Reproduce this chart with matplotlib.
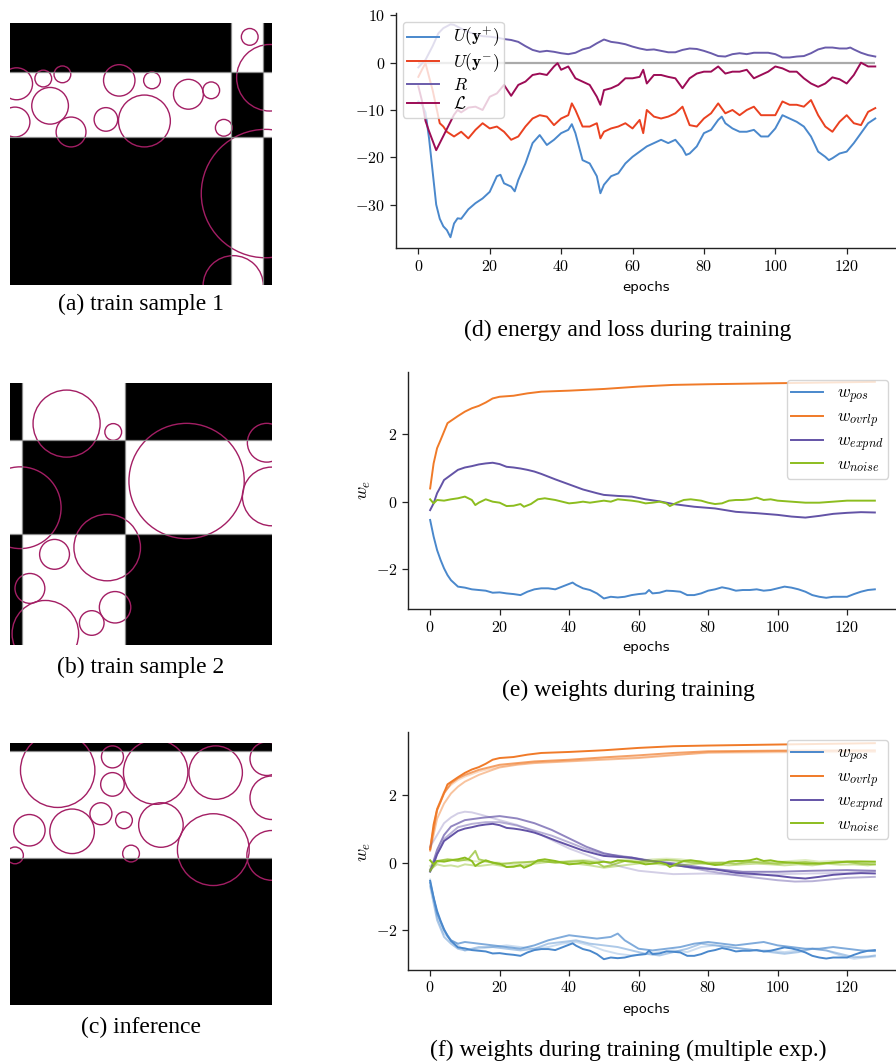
import matplotlib
matplotlib.use('Agg')
import matplotlib.pyplot as plt
from matplotlib.patches import Circle
from matplotlib.ticker import FuncFormatter, MultipleLocator

plt.rcParams['mathtext.fontset'] = 'cm'

W, H = 896, 1064

# ---- sample images: block edges (0..100), cell colours (0 black, 1 white), circles (x, y, r)
a_xedges = [0, 84.4, 96.7, 100]
a_yedges = [0, 18.7, 43.6, 100]
a_cells = [[0, 1, 0], [1, 0, 1], [0, 1, 0]]
a_circles = [(91.5, 5.3, 3.2), (99.2, 20.9, 12.7), (2.5, 23.2, 6.1), (12.7, 21.2, 3.2),
             (20.0, 19.6, 3.2), (15.3, 31.6, 7.0), (1.9, 37.8, 5.7), (23.3, 41.6, 5.7),
             (41.7, 21.9, 6.0), (54.2, 21.9, 3.2), (68.1, 27.2, 5.7), (76.8, 25.7, 3.2),
             (36.6, 36.8, 4.5), (51.3, 37.4, 9.9), (81.6, 40.0, 3.2), (97.5, 65.1, 24.5),
             (85.2, 100.3, 11.5)]

b_xedges = [0, 4.7, 43.8, 100]
b_yedges = [0, 21.9, 57.8, 100]
b_cells = [[0, 1, 0], [1, 0, 1], [0, 1, 0]]
b_circles = [(21.6, 15.5, 12.8), (39.4, 18.7, 3.2), (67.4, 37.4, 22.0), (98.0, 22.8, 7.4),
             (99.9, 43.3, 11.2), (3.9, 47.6, 15.6), (37.1, 62.8, 12.7), (17.0, 65.4, 5.7),
             (7.6, 78.4, 5.7), (13.5, 95.7, 12.7), (40.1, 85.6, 6.0), (31.2, 91.6, 4.7)]

c_xedges = [0, 100]
c_yedges = [0, 3.2, 43.8, 100]
c_cells = [[0], [1], [0]]
c_circles = [(18.2, 10.4, 14.2), (39.1, 5.3, 4.2), (39.1, 15.8, 4.5), (55.6, 11.1, 12.3),
             (78.5, 11.3, 10.2), (98.0, 6.0, 6.4), (99.9, 20.9, 8.3), (7.4, 33.3, 6.0),
             (23.7, 33.7, 8.5), (34.7, 27.0, 4.2), (43.5, 29.5, 3.2), (57.6, 31.3, 8.5),
             (77.6, 40.7, 13.7), (99.9, 42.9, 9.5), (1.9, 42.9, 3.2), (46.2, 42.2, 3.2)]

# ---- (d) energy and loss, (epoch, value)
u_pos = [(0, -8.2), (1, -8.8), (2, -10.5), (3, -16), (4, -23), (5, -30), (6, -33), (7, -34.6),
         (8, -35.4), (9, -36.9), (10, -34), (11, -32.9), (12, -33), (14, -31), (16, -29.7),
         (18, -28.7), (20, -27.3), (22, -24), (23, -23.7), (24, -25.5), (26, -26.2), (27, -27.2),
         (28, -24.8), (30, -21.3), (32, -17), (34, -15.3), (36, -17.4), (38, -16.3), (40, -14.9),
         (42, -14.2), (43, -13), (44, -14.9), (46, -20.6), (48, -21.3), (50, -24), (51, -27.6),
         (52, -25.8), (54, -24), (56, -23.4), (58, -21.3), (60, -19.9), (62, -18.8), (64, -17.7),
         (66, -17), (68, -16.3), (70, -17), (72, -16.3), (74, -18.1), (75, -19.5), (76, -19.2),
         (78, -17.7), (80, -14.9), (82, -14.2), (84, -12.1), (85, -11.4), (86, -12.8), (88, -13.9),
         (90, -14.6), (92, -14.6), (94, -14.2), (96, -15.6), (98, -15.6), (100, -13.9), (102, -11.1),
         (104, -11.8), (106, -12.5), (108, -13.5), (110, -15.6), (112, -18.8), (114, -19.9),
         (115, -20.6), (116, -20.2), (118, -19.2), (120, -18.8), (122, -17), (124, -14.9),
         (126, -12.8), (128, -11.8)]
u_neg = [(0, -3), (1, -1.5), (2, -0.1), (3, -3), (4, -5.8), (5, -9.3), (6, -12.8), (7, -13.5),
         (8, -14.6), (10, -15.6), (12, -14.6), (14, -16), (16, -14.2), (18, -12.8), (20, -13.9),
         (22, -13.5), (24, -14.6), (26, -16.3), (28, -15.6), (30, -13.5), (32, -11.8), (34, -11.1),
         (36, -11.4), (38, -13.2), (40, -11.8), (42, -11.1), (43, -8.6), (44, -10), (46, -13.5),
         (48, -13.5), (50, -12.8), (51, -16), (52, -14.6), (54, -13.9), (56, -13.5), (58, -12.8),
         (60, -13.9), (62, -12.1), (63, -14.9), (64, -10), (66, -11.4), (68, -11.8), (70, -11.4),
         (72, -10.7), (74, -9.3), (76, -13.2), (78, -13.5), (80, -11.8), (82, -10.7), (84, -8.6),
         (86, -10.7), (88, -10), (90, -11.1), (92, -10), (94, -9.3), (96, -11.1), (98, -11.1),
         (100, -11.1), (102, -8.2), (104, -8.9), (106, -8.9), (108, -9.3), (110, -7.9), (112, -11.1),
         (114, -13.5), (116, -14.6), (118, -12.5), (120, -11.1), (122, -12.8), (124, -13.2),
         (126, -10.4), (128, -9.6)]
r_reg = [(0, -1), (2, 0.6), (4, 3.5), (5.6, 6.2), (7, 7.3), (9, 8.1), (10, 8), (12, 7.2), (14, 6.5),
         (16, 6), (18, 5.6), (20, 5.5), (22, 5.3), (24, 5), (26, 4.8), (28, 4.4), (30, 3.5),
         (32, 2.7), (34, 2.3), (36, 2.5), (38, 2.3), (40, 2), (42, 1.8), (44, 2.1), (46, 2.8),
         (48, 3.2), (50, 4.1), (52, 4.9), (54, 4.4), (56, 4.2), (58, 3.9), (60, 3.4), (62, 3),
         (64, 2.7), (66, 2.8), (68, 2.5), (70, 2.2), (72, 2.2), (74, 2.7), (76, 3), (78, 2.9),
         (80, 2.5), (82, 2), (84, 1.4), (86, 1.3), (88, 1.8), (90, 2), (92, 1.8), (94, 2.1),
         (96, 2.1), (98, 2.1), (100, 1.8), (102, 1.1), (104, 1.1), (106, 1.3), (108, 1.4), (110, 2),
         (112, 2.8), (114, 3.2), (116, 3.2), (118, 3), (120, 3), (121, 3.2), (122, 2.8), (124, 2.1),
         (126, 1.6), (128, 1.3)]
loss = [(0, -5), (1, -8), (2, -12.3), (3, -14.5), (4, -16.5), (5, -18.5), (6, -17), (7, -15.5),
        (8, -14), (9, -12.5), (10, -11), (11, -10), (12, -10.5), (14, -9.5), (16, -9.3), (18, -10),
        (20, -7.2), (22, -6.5), (24, -4.7), (26, -7), (28, -4.7), (30, -4), (32, -2.6), (34, -2.3),
        (36, -2.6), (38, -0.8), (39, -0.1), (40, -1.5), (42, -0.8), (44, -3.3), (46, -4), (48, -4.7),
        (50, -7.2), (51, -8.9), (52, -5.8), (54, -5.4), (56, -4.7), (58, -3.3), (60, -3.3), (62, -3),
        (63, -1.5), (64, -4.4), (66, -2.6), (68, -2.6), (70, -3), (72, -3.3), (74, -5.4), (76, -3.3),
        (78, -2.3), (80, -1.9), (82, -1.9), (84, -0.8), (86, -2.3), (88, -1.9), (90, -1.9), (92, -1.5),
        (94, -3.3), (96, -2.6), (98, -1.9), (100, -0.8), (102, -1.2), (104, -1.9), (106, -1.9),
        (108, -3.3), (110, -4.4), (112, -5.1), (114, -4.4), (116, -3.1), (118, -3.5), (120, -4.4),
        (122, -2.6), (124, 0), (126, -0.8), (128, -0.8)]
d_labels = [r'$U(\mathbf{y}^{+})$', r'$U(\mathbf{y}^{-})$', r'$R$', r'$\mathcal{L}$']

# ---- (e) weights, single run
w_pos = [(0, -0.54), (1, -1.03), (2, -1.43), (3, -1.72), (4, -1.97), (5, -2.17), (6, -2.32), (8, -2.51),
         (10, -2.54), (12, -2.59), (14, -2.61), (16, -2.63), (18, -2.69), (20, -2.68), (22, -2.71),
         (24, -2.73), (26, -2.76), (28, -2.66), (30, -2.59), (32, -2.56), (34, -2.56), (36, -2.59),
         (38, -2.51), (40, -2.43), (41, -2.39), (42, -2.46), (44, -2.56), (46, -2.61), (48, -2.71),
         (50, -2.86), (52, -2.81), (54, -2.83), (56, -2.81), (58, -2.76), (60, -2.73), (62, -2.71),
         (63, -2.61), (64, -2.71), (66, -2.69), (68, -2.63), (70, -2.64), (72, -2.66), (74, -2.76),
         (76, -2.76), (78, -2.71), (80, -2.63), (82, -2.59), (84, -2.53), (86, -2.57), (88, -2.63),
         (90, -2.61), (92, -2.61), (94, -2.59), (96, -2.63), (98, -2.61), (100, -2.56), (102, -2.51),
         (104, -2.54), (106, -2.59), (108, -2.66), (110, -2.76), (112, -2.81), (114, -2.84),
         (116, -2.81), (118, -2.81), (120, -2.81), (122, -2.73), (124, -2.66), (126, -2.61), (128, -2.59)]
w_ovrlp = [(0, 0.39), (1, 1.13), (2, 1.58), (3, 1.82), (4, 2.07), (5, 2.32), (6, 2.39), (8, 2.53),
           (10, 2.66), (12, 2.76), (14, 2.83), (16, 2.93), (18, 3.05), (20, 3.10), (24, 3.13),
           (28, 3.2), (32, 3.25), (40, 3.28), (50, 3.33), (60, 3.40), (70, 3.45), (80, 3.47),
           (100, 3.50), (128, 3.54)]
w_expnd = [(0, -0.25), (1, -0.05), (2, 0.25), (3, 0.44), (4, 0.64), (6, 0.79), (8, 0.94), (10, 1.01),
           (12, 1.05), (14, 1.1), (16, 1.13), (18, 1.15), (20, 1.11), (22, 1.03), (24, 1.01), (26, 0.98),
           (28, 0.94), (30, 0.89), (32, 0.82), (36, 0.66), (40, 0.51), (44, 0.36), (48, 0.25), (50, 0.2),
           (54, 0.17), (58, 0.15), (62, 0.07), (66, 0.01), (70, -0.07), (76, -0.15), (82, -0.2),
           (88, -0.3), (94, -0.34), (100, -0.39), (104, -0.44), (108, -0.47), (112, -0.42),
           (116, -0.36), (120, -0.33), (124, -0.31), (128, -0.32)]
w_noise = [(0, 0.07), (1, -0.05), (2, 0.05), (4, 0.03), (6, 0.07), (8, 0.1), (10, 0.15), (12, 0.05),
           (13, -0.1), (14, -0.03), (16, 0.07), (18, 0), (20, -0.03), (22, -0.13), (24, -0.12),
           (26, -0.07), (27, -0.15), (29, -0.07), (31, 0.07), (33, 0.1), (36, 0.05), (38, 0), (40, -0.05),
           (42, -0.03), (44, 0), (46, -0.03), (48, 0), (50, 0.03), (52, 0), (54, 0.07), (56, 0.05),
           (58, 0.03), (60, 0), (62, -0.05), (64, -0.03), (66, 0), (68, -0.05), (69, -0.13), (71, -0.03),
           (73, 0.05), (75, 0.07), (78, 0.03), (80, -0.03), (82, -0.07), (84, -0.05), (86, 0.03),
           (88, 0.05), (90, 0.05), (92, 0.07), (94, 0.12), (96, 0.05), (98, 0.07), (100, 0.03),
           (104, 0), (108, -0.03), (112, -0.03), (116, 0), (120, 0.03), (124, 0.03), (128, 0.03)]
w_labels = [r'$w_{pos}$', r'$w_{ovrlp}$', r'$w_{expnd}$', r'$w_{noise}$']

# ---- (f) three more runs of each weight
pos_run2 = [(0, -0.6), (2, -1.5), (4, -2.0), (6, -2.3), (8, -2.4), (10, -2.35), (14, -2.4), (18, -2.45),
            (22, -2.5), (26, -2.55), (30, -2.45), (34, -2.3), (38, -2.2), (40, -2.15), (44, -2.2),
            (48, -2.25), (52, -2.2), (54, -2.1), (56, -2.3), (60, -2.55), (64, -2.6), (68, -2.55),
            (72, -2.5), (76, -2.4), (80, -2.35), (84, -2.4), (88, -2.45), (92, -2.4), (96, -2.35),
            (100, -2.45), (104, -2.5), (108, -2.55), (112, -2.55), (116, -2.5), (120, -2.55),
            (124, -2.6), (128, -2.62)]
pos_run3 = [(0, -0.7), (2, -1.7), (4, -2.2), (6, -2.4), (8, -2.55), (10, -2.6), (14, -2.5), (18, -2.5),
            (22, -2.55), (26, -2.6), (30, -2.55), (34, -2.4), (38, -2.35), (42, -2.3), (46, -2.4),
            (50, -2.45), (54, -2.5), (58, -2.6), (62, -2.7), (66, -2.75), (70, -2.65), (74, -2.55),
            (78, -2.4), (82, -2.45), (86, -2.5), (90, -2.55), (94, -2.6), (98, -2.65), (102, -2.7),
            (106, -2.65), (110, -2.55), (114, -2.6), (118, -2.7), (122, -2.8), (126, -2.78), (128, -2.75)]
pos_run4 = [(0, -0.5), (2, -1.6), (4, -2.1), (6, -2.3), (8, -2.45), (10, -2.6), (14, -2.55), (18, -2.5),
            (22, -2.45), (26, -2.5), (30, -2.55), (34, -2.5), (38, -2.4), (42, -2.35), (46, -2.45),
            (50, -2.6), (54, -2.7), (58, -2.75), (62, -2.7), (66, -2.65), (70, -2.6), (74, -2.65),
            (78, -2.5), (82, -2.45), (86, -2.5), (90, -2.55), (94, -2.6), (98, -2.6), (102, -2.65),
            (106, -2.6), (110, -2.55), (114, -2.6), (118, -2.75), (122, -2.85), (126, -2.8), (128, -2.78)]
ovrlp_run2 = [(0, 0.4), (2, 1.55), (4, 2.05), (6, 2.35), (8, 2.5), (10, 2.6), (14, 2.75), (18, 2.85),
              (20, 2.9), (25, 2.95), (30, 3.0), (40, 3.05), (50, 3.12), (60, 3.18), (70, 3.25),
              (80, 3.3), (100, 3.32), (128, 3.33)]
ovrlp_run3 = [(0, 0.35), (2, 1.3), (4, 1.75), (6, 2.05), (8, 2.25), (10, 2.4), (14, 2.6), (18, 2.75),
              (20, 2.82), (25, 2.9), (30, 2.95), (40, 3.0), (50, 3.05), (60, 3.1), (70, 3.18),
              (80, 3.27), (100, 3.3), (128, 3.3)]
ovrlp_run4 = [(0, 0.45), (2, 1.6), (4, 2.1), (6, 2.3), (8, 2.45), (10, 2.55), (14, 2.7), (18, 2.8),
              (20, 2.85), (25, 2.92), (30, 2.97), (40, 3.02), (50, 3.08), (60, 3.12), (70, 3.2),
              (80, 3.25), (100, 3.27), (128, 3.28)]
expnd_run2 = [(0, -0.27), (2, 0.38), (4, 0.82), (6, 1.07), (10, 1.26), (15, 1.33), (20, 1.38),
              (25, 1.31), (30, 1.17), (35, 0.97), (40, 0.72), (45, 0.47), (50, 0.28), (55, 0.18),
              (60, 0.1), (70, -0.02), (80, -0.17), (90, -0.27), (100, -0.27), (110, -0.24),
              (120, -0.22), (128, -0.24)]
expnd_run3 = [(0, -0.2), (4, 0.7), (8, 1.05), (12, 1.15), (16, 1.2), (20, 1.2), (25, 1.1), (30, 0.95),
              (35, 0.8), (40, 0.6), (45, 0.4), (50, 0.25), (55, 0.2), (60, 0.12), (70, -0.05),
              (80, -0.25), (90, -0.4), (100, -0.52), (105, -0.56), (110, -0.55), (120, -0.45),
              (128, -0.42)]
expnd_run4 = [(0, 0.47), (4, 1.17), (6, 1.34), (8, 1.46), (10, 1.51), (12, 1.49), (15, 1.41),
              (20, 1.26), (25, 1.12), (30, 0.92), (35, 0.67), (40, 0.42), (45, 0.23), (50, 0.03),
              (55, -0.12), (60, -0.24), (70, -0.34), (80, -0.32), (90, -0.37), (100, -0.34),
              (110, -0.32), (120, -0.3), (128, -0.25)]
noise_run2 = [(0, -0.25), (2, 0.05), (5, 0.1), (8, 0.05), (11, 0.1), (13, 0.35), (14, 0.1), (16, 0.05),
              (20, -0.05), (24, 0), (28, 0.02), (32, 0.05), (36, 0), (40, 0.03), (44, 0.05), (48, 0),
              (50, -0.12), (52, -0.08), (56, 0.05), (60, 0.02), (64, 0.05), (68, 0.08), (72, 0.05),
              (76, 0), (80, -0.02), (84, 0), (88, -0.03), (92, 0.02), (96, 0), (100, -0.03), (104, 0),
              (108, 0.02), (112, -0.02), (116, 0), (120, 0.02), (124, -0.03), (128, -0.05)]
noise_run3 = [(0, -0.2), (2, -0.05), (4, -0.1), (6, -0.08), (8, -0.12), (10, -0.05), (14, -0.1),
              (18, -0.05), (22, -0.12), (26, -0.1), (30, -0.03), (34, 0.02), (38, 0), (42, -0.03),
              (46, -0.08), (50, -0.15), (54, -0.1), (58, -0.05), (62, 0), (66, -0.05), (70, -0.1),
              (74, -0.05), (78, -0.03), (82, -0.05), (86, -0.08), (90, -0.05), (94, -0.03), (98, -0.05),
              (102, -0.08), (106, -0.05), (110, -0.08), (114, -0.03), (118, -0.06), (122, -0.05),
              (126, -0.08), (128, -0.05)]
noise_run4 = [(0, -0.1), (3, 0.05), (6, 0.1), (9, 0.08), (12, 0.05), (16, 0.02), (20, 0), (24, -0.05),
              (28, 0), (32, 0.05), (36, 0.02), (40, 0.05), (44, 0.08), (48, 0.05), (52, 0), (56, 0.1),
              (60, 0.05), (64, 0.1), (68, 0.12), (72, 0.1), (76, 0.05), (80, 0.02), (84, 0), (88, 0.05),
              (92, 0.03), (96, 0.05), (100, 0.02), (104, 0.05), (108, 0.08), (112, 0.03), (116, 0.05),
              (120, 0.05), (124, 0.05), (128, 0.02)]

c_blue, c_orange, c_purple, c_green = '#4a88cc', '#f07a28', '#6353a6', '#8cbd1f'
d_colors = ['#4a88cc', '#ea4120', '#6a5cab', '#9c0c56']
circle_color = '#a31e64'


def box(l, t, r, b):
    return [l / W, 1 - b / H, (r - l) / W, (b - t) / H]


def put(x, y, s, **kw):
    fig.text(x / W, 1 - y / H, s, ha='center', va='center', **kw)


def draw_sample(rect, xedges, yedges, cells, circles):
    ax = fig.add_axes(rect)
    ax.pcolormesh(xedges, yedges, cells, cmap='gray', vmin=0, vmax=1)
    for x in xedges[1:-1]:
        ax.axvline(x, color='#8a8a8a', lw=0.9)
    for y in yedges[1:-1]:
        ax.axhline(y, color='#8a8a8a', lw=0.9)
    for x, y, r in circles:
        ax.add_patch(Circle((x, y), r, fill=False, ec=circle_color, lw=1.0))
    ax.set_xlim(0, 100)
    ax.set_ylim(100, 0)
    ax.axis('off')


def style(ax, ystep):
    fmt = FuncFormatter(lambda v, p: f'${v:g}$')
    ax.xaxis.set_major_locator(MultipleLocator(20))
    ax.yaxis.set_major_locator(MultipleLocator(ystep))
    ax.xaxis.set_major_formatter(fmt)
    ax.yaxis.set_major_formatter(fmt)
    ax.tick_params(labelsize=11.5, length=4, width=0.9, color='#222222')
    for s in ['top', 'right']:
        ax.spines[s].set_visible(False)
    for s in ['left', 'bottom']:
        ax.spines[s].set_linewidth(1.0)
        ax.spines[s].set_color('#222222')
    ax.set_xlim(-6.4, 134.4)


def add_legend(ax, loc, x, y):
    ax.legend(loc=loc, bbox_to_anchor=(x / W, 1 - y / H), bbox_transform=fig.transFigure,
              borderaxespad=0, fontsize=12.5, framealpha=0.8, edgecolor='#cccccc',
              labelspacing=0.1, borderpad=0.25, handlelength=1.85)


def series(pairs):
    return [p[0] for p in pairs], [p[1] for p in pairs]


fig = plt.figure(figsize=(W / 100, H / 100), dpi=100)

cap = dict(family='Liberation Serif', fontsize=17)
draw_sample(box(10, 23, 272, 285), a_xedges, a_yedges, a_cells, a_circles)
put(141, 304, '(a) train sample 1', **cap)
draw_sample(box(10, 383, 272, 645), b_xedges, b_yedges, b_cells, b_circles)
put(141, 667, '(b) train sample 2', **cap)
draw_sample(box(10, 743, 272, 1005), c_xedges, c_yedges, c_cells, c_circles)
put(141, 1027, '(c) inference', **cap)

# (d)
ax = fig.add_axes(box(395.5, 13.3, 898.1, 248.3))
ex, _ = series(u_pos)
ax.hlines(0, ex[0], ex[-1], color='#aaaaaa', lw=1.6, zorder=1)
for data, col, lab in zip([u_pos, u_neg, r_reg, loss], d_colors, d_labels):
    x, y = series(data)
    ax.plot(x, y, color=col, lw=1.4, label=lab, zorder=2)
style(ax, 10)
ax.set_ylim(-39.24, 10.44)
add_legend(ax, 'upper left', 403, 22)
put(646, 287, 'epochs', fontsize=9.5)
put(628, 330, '(d) energy and loss during training', **cap)

# (e)
ax = fig.add_axes(box(407.9, 371.7, 897.1, 609.3))
for data, col, lab in zip([w_pos, w_ovrlp, w_expnd, w_noise],
                          [c_blue, c_orange, c_purple, c_green], w_labels):
    x, y = series(data)
    ax.plot(x, y, color=col, lw=1.4, label=lab)
style(ax, 2)
ax.set_ylim(-3.18, 3.84)
add_legend(ax, 'upper right', 888, 380)
put(646, 648, 'epochs', fontsize=9.5)
put(364, 490, '$w_e$', fontsize=13, rotation=90)
put(628, 690, '(e) weights during training', **cap)

# (f)
ax = fig.add_axes(box(407.9, 731.7, 897.1, 970))
runs = [[w_pos, pos_run2, pos_run3, pos_run4],
        [w_ovrlp, ovrlp_run2, ovrlp_run3, ovrlp_run4],
        [w_expnd, expnd_run2, expnd_run3, expnd_run4],
        [w_noise, noise_run2, noise_run3, noise_run4]]
alphas = [1.0, 0.7, 0.45, 0.28]
for group, col, lab in zip(runs, [c_blue, c_orange, c_purple, c_green], w_labels):
    for k in range(len(group) - 1, -1, -1):
        x, y = series(group[k])
        ax.plot(x, y, color=col, lw=1.4, alpha=alphas[k], label=lab if k == 0 else None)
style(ax, 2)
ax.set_ylim(-3.18, 3.88)
add_legend(ax, 'upper right', 888, 740)
put(646, 1009, 'epochs', fontsize=9.5)
put(364, 852, '$w_e$', fontsize=13, rotation=90)
put(628, 1050, '(f) weights during training (multiple exp.)', **cap)

fig.savefig('out.png', dpi=100)
